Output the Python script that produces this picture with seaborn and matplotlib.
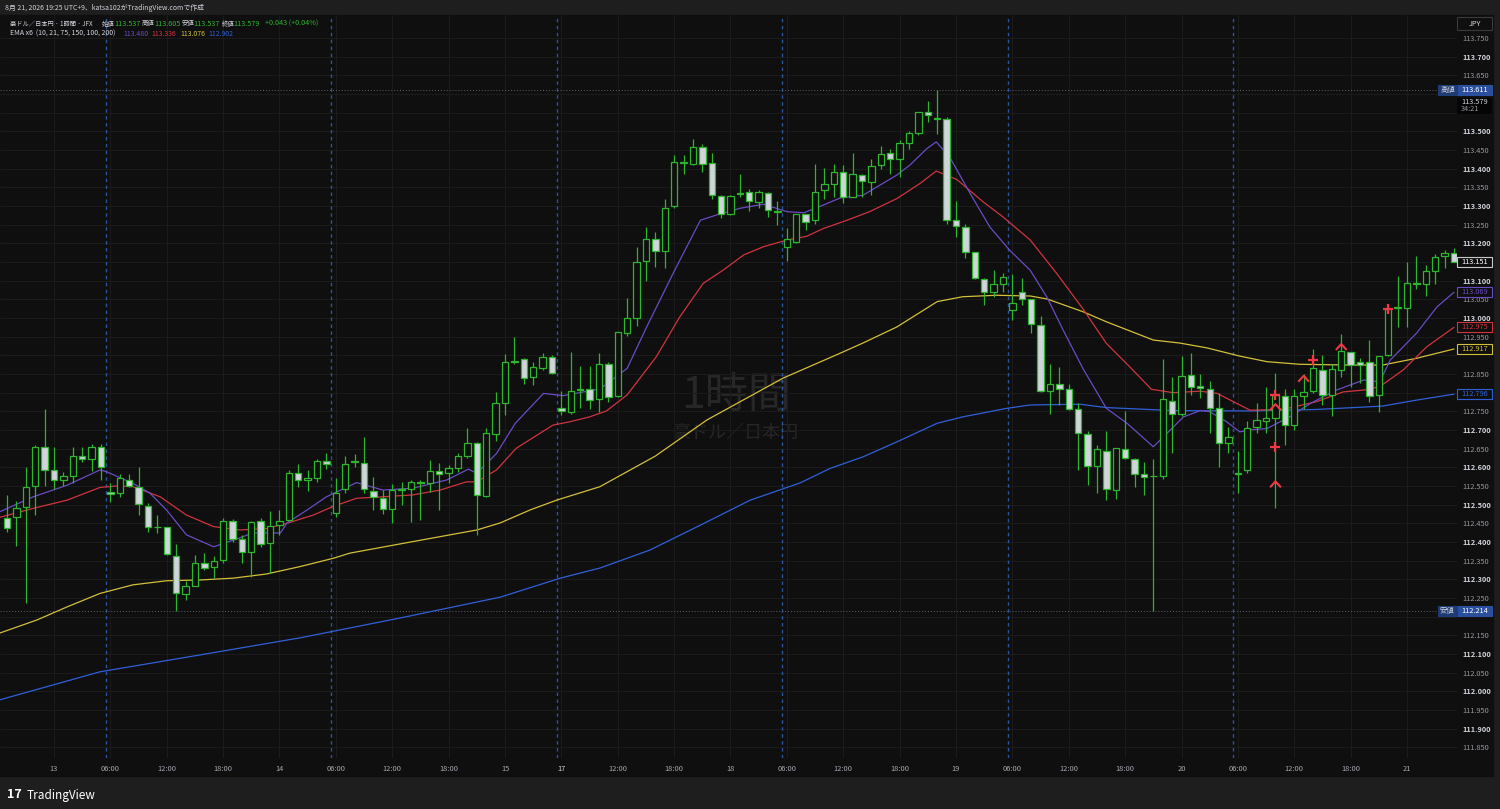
import numpy as np
import matplotlib
matplotlib.use("Agg")
import matplotlib.pyplot as plt
import matplotlib.transforms as mtrans
from matplotlib.patches import Rectangle
from matplotlib.path import Path
import seaborn as sns

# ---------------------------------------------------------------------------
# data: AUD/JPY 1h candles
# ---------------------------------------------------------------------------
opens = [112.464, 112.466, 112.493, 112.551, 112.655, 112.594, 112.565, 112.578, 112.629, 112.623,
         112.655, 112.535, 112.530, 112.565, 112.548, 112.497, 112.441, 112.441, 112.363, 112.261,
         112.281, 112.343, 112.332, 112.352, 112.455, 112.407, 112.374, 112.457, 112.396, 112.445,
         112.458, 112.586, 112.565, 112.572, 112.618, 112.477, 112.541, 112.614, 112.612, 112.536,
         112.517, 112.487, 112.540, 112.541, 112.560, 112.557, 112.590, 112.584, 112.597, 112.630,
         112.666, 112.523, 112.689, 112.771, 112.881, 112.889, 112.841, 112.867, 112.896, 112.759,
         112.749, 112.806, 112.809, 112.782, 112.876, 112.792, 112.961, 113.001, 113.153, 113.211,
         113.179, 113.300, 113.419, 113.414, 113.459, 113.416, 113.328, 113.280, 113.331, 113.337,
         113.310, 113.334, 113.287, 113.191, 113.204, 113.278, 113.262, 113.343, 113.358, 113.392,
         113.325, 113.383, 113.365, 113.410, 113.443, 113.426, 113.468, 113.497, 113.551, 113.536,
         113.532, 113.264, 113.244, 113.176, 113.104, 113.069, 113.091, 113.021, 113.069, 113.051,
         112.981, 112.805, 112.823, 112.809, 112.756, 112.689, 112.603, 112.644, 112.539, 112.649,
         112.621, 112.581, 112.576, 112.577, 112.778, 112.742, 112.847, 112.818, 112.810, 112.758,
         112.664, 112.583, 112.593, 112.709, 112.725, 112.733, 112.792, 112.713, 112.792, 112.804,
         112.862, 112.795, 112.861, 112.910, 112.881, 112.883, 112.795, 112.902, 113.027, 113.028,
         113.094, 113.091, 113.126, 113.166, 113.173]
highs = [112.525, 112.510, 112.601, 112.660, 112.755, 112.655, 112.588, 112.655, 112.655, 112.662,
         112.662, 112.557, 112.583, 112.583, 112.602, 112.504, 112.472, 112.441, 112.394, 112.294,
         112.366, 112.370, 112.361, 112.464, 112.461, 112.418, 112.457, 112.465, 112.482, 112.485,
         112.593, 112.608, 112.593, 112.623, 112.639, 112.570, 112.630, 112.635, 112.682, 112.575,
         112.539, 112.554, 112.561, 112.566, 112.566, 112.619, 112.612, 112.606, 112.637, 112.706,
         112.668, 112.706, 112.802, 112.903, 112.950, 112.894, 112.883, 112.907, 112.901, 112.804,
         112.909, 112.871, 112.871, 112.905, 112.883, 112.963, 113.053, 113.191, 113.245, 113.231,
         113.320, 113.437, 113.437, 113.481, 113.466, 113.441, 113.329, 113.329, 113.385, 113.347,
         113.343, 113.338, 113.313, 113.240, 113.280, 113.280, 113.414, 113.401, 113.414, 113.410,
         113.441, 113.386, 113.425, 113.461, 113.452, 113.477, 113.501, 113.553, 113.581, 113.611,
         113.539, 113.313, 113.253, 113.178, 113.106, 113.128, 113.121, 113.117, 113.106, 113.052,
         113.006, 112.878, 112.869, 112.823, 112.771, 112.698, 112.661, 112.697, 112.652, 112.751,
         112.624, 112.615, 112.622, 112.889, 112.843, 112.898, 112.905, 112.850, 112.831, 112.798,
         112.709, 112.644, 112.724, 112.771, 112.816, 112.854, 112.811, 112.811, 112.849, 112.917,
         112.901, 112.876, 112.956, 112.910, 112.894, 112.941, 112.899, 113.030, 113.113, 113.151,
         113.167, 113.142, 113.171, 113.182, 113.187]
lows = [112.427, 112.390, 112.236, 112.472, 112.551, 112.543, 112.550, 112.557, 112.615, 112.591,
        112.565, 112.508, 112.520, 112.546, 112.472, 112.427, 112.425, 112.364, 112.216, 112.245,
        112.281, 112.325, 112.303, 112.343, 112.401, 112.343, 112.307, 112.387, 112.316, 112.418,
        112.456, 112.546, 112.536, 112.561, 112.596, 112.467, 112.530, 112.601, 112.530, 112.485,
        112.474, 112.450, 112.499, 112.454, 112.459, 112.534, 112.485, 112.557, 112.588, 112.624,
        112.418, 112.521, 112.670, 112.740, 112.878, 112.823, 112.820, 112.860, 112.851, 112.740,
        112.744, 112.758, 112.755, 112.749, 112.776, 112.789, 112.952, 112.978, 113.100, 113.137,
        113.133, 113.295, 113.387, 113.410, 113.392, 113.318, 113.267, 113.276, 113.325, 113.286,
        113.296, 113.270, 113.249, 113.153, 113.202, 113.236, 113.253, 113.318, 113.325, 113.307,
        113.323, 113.323, 113.329, 113.398, 113.387, 113.377, 113.453, 113.490, 113.526, 113.492,
        113.251, 113.218, 113.160, 113.104, 113.035, 113.055, 113.069, 112.994, 113.035, 112.961,
        112.802, 112.744, 112.767, 112.753, 112.593, 112.552, 112.530, 112.512, 112.515, 112.622,
        112.548, 112.526, 112.214, 112.569, 112.637, 112.737, 112.795, 112.786, 112.693, 112.602,
        112.637, 112.530, 112.586, 112.691, 112.691, 112.490, 112.660, 112.700, 112.755, 112.798,
        112.767, 112.738, 112.843, 112.816, 112.825, 112.776, 112.747, 112.898, 112.977, 112.975,
        113.079, 113.060, 113.091, 113.133, 113.151]
closes = [112.437, 112.490, 112.548, 112.655, 112.594, 112.565, 112.578, 112.629, 112.623, 112.655,
          112.601, 112.529, 112.570, 112.550, 112.501, 112.441, 112.439, 112.367, 112.263, 112.281,
          112.343, 112.329, 112.350, 112.455, 112.407, 112.374, 112.453, 112.394, 112.443, 112.457,
          112.586, 112.565, 112.572, 112.616, 112.608, 112.530, 112.610, 112.618, 112.542, 112.521,
          112.487, 112.540, 112.542, 112.561, 112.558, 112.590, 112.582, 112.599, 112.630, 112.664,
          112.527, 112.691, 112.771, 112.881, 112.886, 112.840, 112.869, 112.896, 112.854, 112.751,
          112.804, 112.810, 112.780, 112.876, 112.789, 112.963, 112.999, 113.151, 113.213, 113.179,
          113.296, 113.419, 113.416, 113.459, 113.414, 113.329, 113.280, 113.328, 113.336, 113.313,
          113.338, 113.289, 113.285, 113.211, 113.278, 113.258, 113.338, 113.358, 113.392, 113.325,
          113.385, 113.367, 113.407, 113.439, 113.426, 113.468, 113.496, 113.551, 113.544, 113.533,
          113.264, 113.247, 113.176, 113.106, 113.070, 113.091, 113.111, 113.039, 113.052, 112.984,
          112.804, 112.823, 112.809, 112.756, 112.691, 112.604, 112.648, 112.542, 112.651, 112.624,
          112.581, 112.575, 112.577, 112.783, 112.744, 112.845, 112.816, 112.813, 112.760, 112.664,
          112.682, 112.586, 112.706, 112.727, 112.731, 112.794, 112.713, 112.792, 112.803, 112.865,
          112.795, 112.863, 112.911, 112.874, 112.874, 112.791, 112.899, 113.024, 113.029, 113.093,
          113.092, 113.126, 113.164, 113.173, 113.151]

# EMA lines, sampled along the bar index
ema10_x = [-0.75, 2.8, 6.4, 9.9, 10.6, 13.4, 15.2, 17.0, 19.1, 22.0, 24.1, 26.2, 29.1, 29.8, 31.9,
           34.0, 37.2, 40.0, 43.2, 46.8, 49.1, 50.0, 52.1, 54.1, 57.1, 59.2, 63.1, 66.0, 68.1, 70.9,
           73.8, 75.5, 78.0, 80.5, 83.0, 84.8, 86.9, 88.7, 91.1, 94.7, 96.1, 97.9, 98.9, 100.4, 102.5,
           104.6, 106.7, 108.9, 110.7, 112.4, 114.5, 117.0, 119.2, 122.0, 123.1, 125.2, 127.0, 128.0,
           129.8, 131.2, 132.3, 134.1, 136.5, 138.7, 141.5, 144.4, 146.1, 147.2, 150.0, 152.2, 154.0]
ema10_y = [112.481, 112.521, 112.552, 112.593, 112.588, 112.557, 112.531, 112.485, 112.419, 112.387,
           112.405, 112.424, 112.424, 112.451, 112.485, 112.521, 112.559, 112.539, 112.544, 112.566,
           112.595, 112.584, 112.637, 112.718, 112.798, 112.792, 112.810, 112.865, 112.977, 113.120,
           113.262, 113.276, 113.294, 113.305, 113.285, 113.282, 113.303, 113.322, 113.329, 113.383,
           113.410, 113.454, 113.472, 113.428, 113.334, 113.244, 113.182, 113.128, 113.055, 112.968,
           112.865, 112.758, 112.718, 112.655, 112.682, 112.735, 112.752, 112.749, 112.722, 112.695,
           112.700, 112.704, 112.735, 112.771, 112.807, 112.834, 112.829, 112.887, 112.959, 113.030,
           113.069]
ema21_x = [-0.75, 2.8, 6.4, 9.9, 11.7, 13.4, 16.3, 19.1, 22.0, 24.8, 27.6, 29.8, 32.6, 34.7, 37.2,
           40.0, 43.2, 46.1, 48.9, 50.0, 52.1, 54.2, 58.1, 59.9, 62.0, 63.8, 66.0, 69.1, 71.6, 74.1,
           76.2, 78.4, 80.5, 83.0, 85.1, 86.9, 89.4, 91.8, 94.7, 97.2, 98.9, 101.1, 103.9, 106.0,
           108.9, 111.7, 114.5, 117.0, 119.5, 121.8, 124.1, 127.0, 128.8, 130.2, 132.3, 135.8, 139.4,
           142.2, 144.4, 146.1, 148.6, 151.1, 154.0]
ema21_y = [112.466, 112.490, 112.512, 112.546, 112.550, 112.548, 112.521, 112.472, 112.441, 112.432,
           112.436, 112.450, 112.472, 112.495, 112.517, 112.521, 112.526, 112.539, 112.561, 112.561,
           112.593, 112.651, 112.713, 112.722, 112.735, 112.751, 112.794, 112.896, 113.003, 113.093,
           113.128, 113.169, 113.191, 113.209, 113.219, 113.240, 113.262, 113.285, 113.320, 113.361,
           113.394, 113.371, 113.311, 113.271, 113.209, 113.120, 113.025, 112.932, 112.869, 112.809,
           112.800, 112.804, 112.798, 112.780, 112.753, 112.755, 112.776, 112.802, 112.807, 112.816,
           112.861, 112.923, 112.975]
ema75_x = [-0.75, 3.2, 6.4, 9.9, 13.4, 17.0, 20.5, 24.1, 27.6, 31.2, 34.7, 36.5, 43.0, 50.0, 52.5,
           55.7, 58.5, 63.1, 69.0, 74.5, 82.6, 88.7, 91.1, 94.7, 99.0, 101.7, 105.3, 108.9, 110.7,
           114.5, 117.0, 122.0, 124.8, 127.7, 131.2, 134.1, 137.6, 142.9, 146.4, 150.0, 154.0]
ema75_y = [112.156, 112.191, 112.226, 112.262, 112.285, 112.296, 112.298, 112.303, 112.314, 112.334,
           112.356, 112.370, 112.400, 112.432, 112.451, 112.486, 112.512, 112.548, 112.630, 112.727,
           112.839, 112.906, 112.933, 112.976, 113.044, 113.057, 113.061, 113.059, 113.051, 113.017,
           112.990, 112.941, 112.933, 112.920, 112.898, 112.883, 112.876, 112.874, 112.874, 112.892,
           112.917]
ema200_x = [-0.75, 9.9, 20.5, 31.2, 41.8, 52.5, 58.9, 63.1, 68.4, 73.8, 79.1, 84.4, 87.6, 91.1,
            94.7, 99.0, 101.7, 106.4, 108.9, 114.2, 117.0, 124.1, 132.3, 139.4, 146.4, 150.0, 154.0]
ema200_y = [111.977, 112.052, 112.097, 112.143, 112.196, 112.252, 112.303, 112.330, 112.378, 112.445,
            112.512, 112.558, 112.597, 112.628, 112.668, 112.718, 112.735, 112.758, 112.767, 112.769,
            112.760, 112.752, 112.751, 112.755, 112.764, 112.780, 112.796]

# red signal marks
plus_x = [135, 135, 139, 147]
plus_y = [112.795, 112.655, 112.887, 113.024]
caret_x = [135, 135, 138, 142]
caret_y = [112.762, 112.555, 112.838, 112.923]

# time axis labels (bar index -> text)
time_ticks = [5, 11, 17, 23, 29, 35, 41, 47, 53, 59, 65, 71, 77, 83, 89, 95, 101, 107, 113, 119,
              125, 131, 137, 143, 149]
time_labels = ["13", "06:00", "12:00", "18:00", "14", "06:00", "12:00", "18:00", "15", "17",
               "12:00", "18:00", "18", "06:00", "12:00", "18:00", "19", "06:00", "12:00", "18:00",
               "20", "06:00", "12:00", "18:00", "21"]
session_breaks = [10.5, 34.5, 58.5, 82.5, 106.5, 130.5]

day_high, day_low = 113.611, 112.214
last_price = 113.151
ema_last = [113.069, 112.975, 112.917, 112.796]

# ---------------------------------------------------------------------------
# style
# ---------------------------------------------------------------------------
BG = "#0f0f0f"
BG_OUT = "#1e1e1e"
GRID = "#1b1b1b"
TXT = "#d1d4dc"
TXT2 = "#9598a1"
GREEN = "#2db52d"
DOWN_FILL = "#d1d4dc"
C_EMA = ["#6a4bc4", "#d0343f", "#d4bf3a", "#3060d8"]
RED = "#f23645"

sns.set_theme(style="dark", rc={"axes.facecolor": BG, "figure.facecolor": BG_OUT})
plt.rcParams["font.family"] = ["Noto Sans CJK JP", "DejaVu Sans"]

W, H = 1500, 809
fig = plt.figure(figsize=(15, 8.09), dpi=100)


def fx(px):
    return px / W


def fy(py):
    return 1 - py / H


# chart panel (behind the axes)
fig.patches.append(Rectangle((0, fy(776)), fx(1493), fy(15) - fy(776),
                             transform=fig.transFigure, color=BG, zorder=-10))

ax = fig.add_axes([0, fy(758), fx(1457), fy(15) - fy(758)])
ax.set_facecolor(BG)
ax.set_xlim(-0.745, 154.32)
ax.set_ylim(111.821, 113.812)

x = np.arange(len(opens))
o = np.array(opens); c = np.array(closes)
up = c >= o
body_lo = np.minimum(o, c)
body_h = np.maximum(np.abs(c - o), 0.0012)

ax.vlines(x, lows, highs, color=GREEN, lw=0.9, zorder=3)
ax.bar(x[up], body_h[up], bottom=body_lo[up], width=0.68, facecolor=BG,
       edgecolor=GREEN, linewidth=0.9, zorder=4)
ax.bar(x[~up], body_h[~up], bottom=body_lo[~up], width=0.68, facecolor=DOWN_FILL,
       edgecolor=GREEN, linewidth=0.9, zorder=4)

for xs, ys, col in zip([ema200_x, ema75_x, ema21_x, ema10_x],
                       [ema200_y, ema75_y, ema21_y, ema10_y],
                       [C_EMA[3], C_EMA[2], C_EMA[1], C_EMA[0]]):
    sns.lineplot(x=xs, y=ys, ax=ax, color=col, lw=0.9, estimator=None, sort=False, zorder=2)

# markers
ax.scatter(plus_x, plus_y, marker="+", s=45, color=RED, linewidths=1.6, zorder=6)
caret = Path([(-0.5, -0.3), (0, 0.25), (0.5, -0.3)], [Path.MOVETO, Path.LINETO, Path.LINETO])
ax.scatter(caret_x, caret_y, marker=caret, s=60, facecolors="none", edgecolors=RED,
           linewidths=1.5, zorder=6)

# session breaks, high / low lines
for b in session_breaks:
    ax.axvline(b, color="#2f5cb0", lw=1.0, ls=(0, (2.5, 2.5)), alpha=0.9, zorder=1)
for p in (day_high, day_low):
    ax.axhline(p, color="#5d606b", lw=0.7, ls=(0, (1, 2)), zorder=1)

# axes, ticks, grid
tag_prices = [day_high, day_low, last_price, 113.590, 113.555] + ema_last
price_ticks = np.round(np.arange(111.85, 113.7501, 0.05), 3)
ax.yaxis.tick_right()
ax.set_yticks(price_ticks)
ax.set_yticklabels([f"{t:.3f}" if min(abs(t - p) for p in tag_prices) > 0.019 else ""
                    for t in price_ticks])
for lab, t in zip(ax.get_yticklabels(), price_ticks):
    major = abs(round(t * 10) - t * 10) < 1e-6
    lab.set_color(TXT if major else TXT2)
    lab.set_fontweight("bold" if major else "normal")
ax.set_xticks(time_ticks)
ax.set_xticklabels(time_labels)
for lab, t in zip(ax.get_xticklabels(), time_labels):
    lab.set_color(TXT if t == "17" else "#a3a6af")
ax.tick_params(axis="y", length=0, pad=4, labelsize=5.3)
ax.tick_params(axis="x", length=0, pad=5, labelsize=5.4)
ax.grid(True, color=GRID, lw=0.8)
for s in ax.spines.values():
    s.set_visible(False)

# watermark
ax.text(0.505, 0.487, "1時間", transform=ax.transAxes, ha="center", va="center",
        fontsize=31, color="#272727", zorder=0)
ax.text(0.505, 0.438, "豪ドル／日本円", transform=ax.transAxes, ha="center", va="center",
        fontsize=13, color="#272727", zorder=0)

# right-side tags
tr = mtrans.blended_transform_factory(fig.transFigure, ax.transData)
hpx = 0.0026788  # price per pixel


def tag(p, text, fg, fc, ec=None, x0=1457, w=35, h=10):
    ax.add_patch(Rectangle((fx(x0), p - h / 2 * hpx), fx(w), h * hpx, transform=tr,
                           facecolor=fc, edgecolor=ec if ec else fc, lw=0.8,
                           clip_on=False, zorder=10))
    ax.text(fx(x0 + w / 2), p, text, transform=tr, ha="center", va="center",
            fontsize=5.3, color=fg, clip_on=False, zorder=11)


tag(day_high, "113.611", "white", "#2a4f9e")
tag(day_high, "高値", TXT, "#1f3b73", x0=1438, w=19)
tag(day_low, "112.214", "white", "#2a4f9e")
tag(day_low, "安値", TXT, "#1f3b73", x0=1438, w=19)
# countdown box under the high tag
ax.add_patch(Rectangle((fx(1457), 113.5 - (113.5 - 131.3) * hpx), fx(35), 16 * hpx, transform=tr,
                       facecolor="#050505", edgecolor="none", clip_on=False, zorder=10))
ax.text(fx(1461), 113.5 - (101.5 - 131.3) * hpx, "113.579", transform=tr, ha="left",
        va="center", fontsize=5.3, color=TXT, clip_on=False, zorder=11)
ax.text(fx(1461), 113.5 - (109.3 - 131.3) * hpx, "34:21", transform=tr, ha="left",
        va="center", fontsize=5.3, color=TXT2, clip_on=False, zorder=11)
tag(last_price, f"{last_price:.3f}", "white", BG, ec="#c8cad0")
for p, col in zip(ema_last, C_EMA):
    tag(p, f"{p:.3f}", col, BG, ec=col)

# JPY box
fig.patches.append(Rectangle((fx(1457), fy(30)), fx(35), fy(17) - fy(30), transform=fig.transFigure,
                             facecolor=BG, edgecolor="#3a3a3a", lw=0.8, zorder=5))
fig.text(fx(1474.5), fy(23.5), "JPY", ha="center", va="center", fontsize=5.3, color=TXT, zorder=6)

# header
fig.text(fx(5), fy(7.5), "8月 21, 2026 19:25 UTC+9、katsa102がTradingView.comで作成",
         ha="left", va="center", fontsize=4.95, color=TXT)
legend1 = [("豪ドル／日本円 · 1時間 · JFX", 10, TXT, 4.5), ("始値", 101.5, TXT, 4.6),
           ("113.537", 114.3, GREEN, 5.2), ("高値", 142, TXT, 4.6), ("113.605", 154.3, GREEN, 5.2),
           ("安値", 181.5, TXT, 4.6), ("113.537", 193.3, GREEN, 5.2), ("終値", 221.5, TXT, 4.6),
           ("113.579", 233.3, GREEN, 5.2), ("+0.043 (+0.04%)", 265, GREEN, 5.2)]
for t, px, col, fs in legend1:
    fig.text(fx(px), fy(23.5), t, ha="left", va="center", fontsize=fs, color=col)
legend2 = [("EMA x6  (10, 21, 75, 150, 100, 200)", 10, TXT), ("113.480", 123.3, C_EMA[0]),
           ("113.336", 151.7, C_EMA[1]), ("113.076", 180, C_EMA[2]), ("112.902", 208.3, C_EMA[3])]
for t, px, col in legend2:
    fig.text(fx(px), fy(33.5), t, ha="left", va="center", fontsize=5.0, color=col)

# footer
fig.text(fx(7), fy(795), "17", ha="left", va="center", fontsize=9, fontweight="bold", color="white")
fig.text(fx(27), fy(795), "TradingView", ha="left", va="center", fontsize=8.5, color="white")

fig.savefig("out.png", dpi=100, facecolor=BG_OUT)
